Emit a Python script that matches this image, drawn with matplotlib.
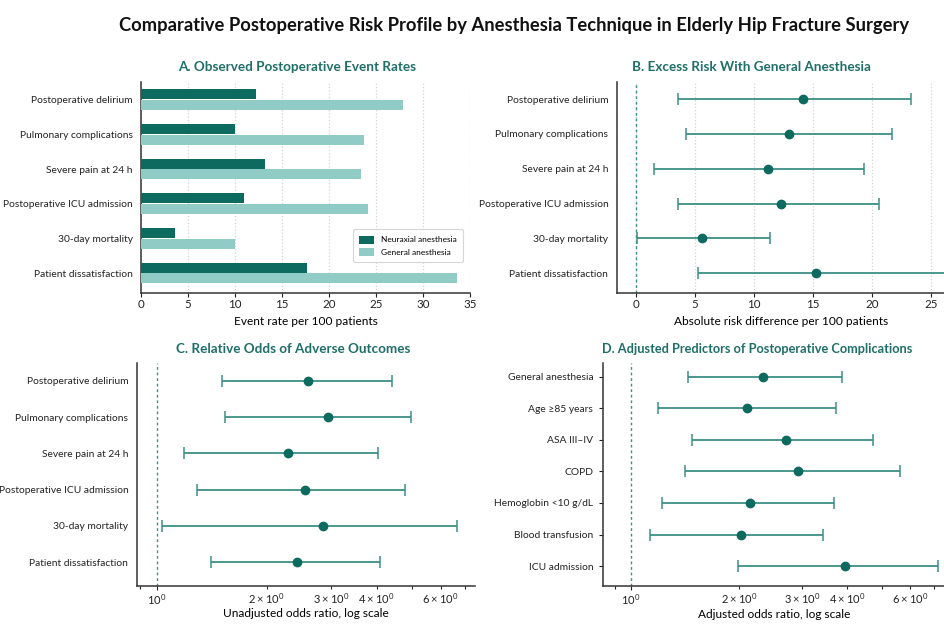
import numpy as np
import matplotlib
matplotlib.use('Agg')
import matplotlib.pyplot as plt

plt.rcParams['font.family'] = ['Lato', 'DejaVu Sans']

# data
outcomes = ['Postoperative delirium', 'Pulmonary complications', 'Severe pain at 24 h',
            'Postoperative ICU admission', '30-day mortality', 'Patient dissatisfaction']
rate_neuraxial = [12.2, 10.0, 13.2, 11.0, 3.6, 17.7]
rate_general = [27.9, 23.7, 23.4, 24.1, 10.0, 33.6]

rd_est = [14.2, 13.0, 11.2, 12.3, 5.6, 15.3]
rd_low = [3.6, 4.3, 1.6, 3.6, 0.1, 5.3]
rd_high = [23.3, 21.7, 19.3, 20.6, 11.4, 26.6]

or_est = [2.60, 2.95, 2.29, 2.55, 2.86, 2.42]
or_low = [1.51, 1.54, 1.19, 1.29, 1.03, 1.41]
or_high = [4.40, 4.98, 4.04, 4.79, 6.67, 4.09]

predictors = ['General anesthesia', 'Age \u226585 years', 'ASA III\u2013IV', 'COPD',
              'Hemoglobin <10 g/dL', 'Blood transfusion', 'ICU admission']
aor_est = [2.33, 2.10, 2.71, 2.91, 2.15, 2.02, 3.95]
aor_low = [1.44, 1.19, 1.48, 1.41, 1.22, 1.13, 1.99]
aor_high = [3.86, 3.72, 4.71, 5.62, 3.69, 3.42, 7.16]

DARK = '#0d6a5e'
LIGHT = '#90cbc5'
LINE = '#3d8f88'
TITLE_C = '#1e6f67'
SPINE = '#333333'

fig = plt.figure(figsize=(9.45, 6.24), dpi=100)
fig.patch.set_facecolor('white')

W, H = 945.0, 624.0
def box(l, r, t, b):
    return [l / W, 1 - b / H, (r - l) / W, (b - t) / H]

axA = fig.add_axes(box(141, 470, 81.7, 292.5))
axB = fig.add_axes(box(616.7, 945, 81.7, 292.5))
axC = fig.add_axes(box(136.7, 475, 363, 585.5))
axD = fig.add_axes(box(603, 945, 363, 585.7))

for ax in (axA, axB, axC, axD):
    for s in ('top', 'right'):
        ax.spines[s].set_visible(False)
    for s in ('left', 'bottom'):
        ax.spines[s].set_color(SPINE)
        ax.spines[s].set_linewidth(1.1)
    ax.tick_params(axis='x', which='both', labelsize=8.3, colors='#222222', width=0.8, pad=2)
    ax.tick_params(axis='x', which='major', length=3)
    ax.tick_params(axis='y', labelsize=7.4, colors='#222222', length=0, pad=6)

# A. bars
y = np.arange(len(outcomes))
axA.barh(y - 0.155, rate_neuraxial, height=0.29, color=DARK, label='Neuraxial anesthesia', zorder=3)
axA.barh(y + 0.155, rate_general, height=0.29, color=LIGHT, label='General anesthesia', zorder=3)
axA.set_yticks(y)
axA.set_yticklabels(outcomes)
axA.set_ylim(5.56, -0.52)
axA.set_xlim(0, 35)
axA.set_xticks(np.arange(0, 36, 5))
axA.grid(axis='x', linestyle=':', color='#d4d4d4', linewidth=0.9, zorder=0)
axA.set_xlabel('Event rate per 100 patients', fontsize=8.6, labelpad=4)
leg = axA.legend(loc='lower right', bbox_to_anchor=(0.979, 0.145), fontsize=6.0,
                 frameon=True, handlelength=1.8, handleheight=1.1, borderpad=0.75,
                 labelspacing=0.5, borderaxespad=0)
leg.get_frame().set_edgecolor('#cccccc')
leg.get_frame().set_linewidth(0.8)

def forest(ax, labels, est, lo, hi):
    yy = np.arange(len(labels))
    est = np.array(est)
    err = [est - np.array(lo), np.array(hi) - est]
    ax.errorbar(est, yy, xerr=err, fmt='none', ecolor=LINE, elinewidth=1.3,
                capsize=4, capthick=1.1, zorder=3)
    ax.plot(est, yy, 'o', color=DARK, markersize=6, zorder=4)
    ax.set_yticks(yy)
    ax.set_yticklabels(labels)

# B. risk difference
forest(axB, outcomes, rd_est, rd_low, rd_high)
axB.axvline(0, color=LINE, linestyle=(0, (2, 2)), linewidth=1, zorder=2)
axB.set_xlim(-1.6, 26.2)
axB.set_ylim(5.55, -0.5)
axB.set_xticks([0, 5, 10, 15, 20, 25])
axB.grid(axis='x', linestyle=':', color='#d4d4d4', linewidth=0.9, zorder=0)
axB.set_xlabel('Absolute risk difference per 100 patients', fontsize=8.6, labelpad=4)

# C. unadjusted OR
forest(axC, outcomes, or_est, or_low, or_high)
axC.set_xscale('log')
axC.axvline(1, color=LINE, linestyle=(0, (2, 2)), linewidth=1, zorder=2)
axC.set_xlim(0.88, 7.45)
axC.set_ylim(5.64, -0.49)
axC.set_xlabel('Unadjusted odds ratio, log scale', fontsize=8.6, labelpad=1)

# D. adjusted OR
forest(axD, predictors, aor_est, aor_low, aor_high)
axD.set_xscale('log')
axD.axvline(1, color=LINE, linestyle=(0, (2, 2)), linewidth=1, zorder=2)
axD.set_xlim(0.835, 7.5)
axD.set_ylim(6.62, -0.43)
axD.tick_params(axis='y', length=3, pad=4)
axD.set_xlabel('Adjusted odds ratio, log scale', fontsize=8.6, labelpad=1)

for ax in (axC, axD):
    ax.tick_params(axis='x', which='both', labelsize=8.0, colors='#222222')
    ax.tick_params(axis='x', which='minor', length=2)

# titles
fig.text(514 / W, 1 - 25 / H, 'Comparative Postoperative Risk Profile by Anesthesia Technique in Elderly Hip Fracture Surgery',
         ha='center', va='center', fontsize=13.2, fontweight='bold', color='#111111')
fig.text(296.7 / W, 1 - 67.3 / H, 'A. Observed Postoperative Event Rates', ha='center', va='center',
         fontsize=9.7, fontweight='bold', color=TITLE_C)
fig.text(751 / W, 1 - 67.3 / H, 'B. Excess Risk With General Anesthesia', ha='center', va='center',
         fontsize=9.7, fontweight='bold', color=TITLE_C)
fig.text(292.7 / W, 1 - 349 / H, 'C. Relative Odds of Adverse Outcomes', ha='center', va='center',
         fontsize=9.7, fontweight='bold', color=TITLE_C)
fig.text(757 / W, 1 - 349 / H, 'D. Adjusted Predictors of Postoperative Complications', ha='center', va='center',
         fontsize=9.2, fontweight='bold', color=TITLE_C)

fig.savefig('out.png', dpi=100, facecolor='white')
